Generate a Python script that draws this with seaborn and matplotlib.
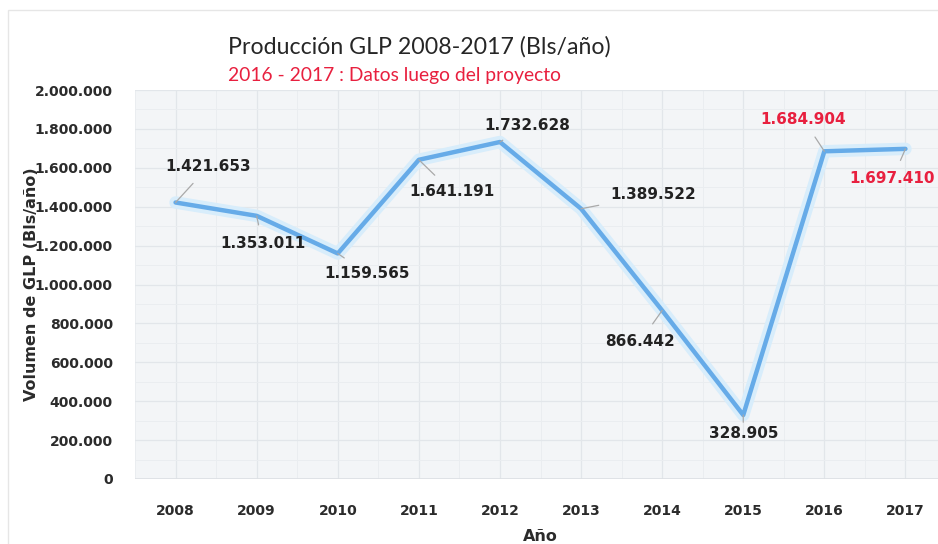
import matplotlib
matplotlib.use("Agg")
import matplotlib.pyplot as plt
import seaborn as sns
import pandas as pd
from matplotlib.ticker import FuncFormatter, MultipleLocator

years = ["2008", "2009", "2010", "2011", "2012", "2013", "2014", "2015", "2016", "2017"]
volumes = [1421653, 1353011, 1159565, 1641191, 1732628, 1389522, 866442, 328905, 1684904, 1697410]
# label offsets in pixels relative to each data point (dy positive = up)
label_dx = [33, 6, 29, 33, 27, 72, -22, 0, -21, -13]
label_dy = [36, -28, -20, -32, 17, 14, -31, -18, 32, -30]
post_project = ["2016", "2017"]

df = pd.DataFrame({"Año": years, "Volumen": volumes})

sns.set_theme(style="white")
plt.rcParams["font.family"] = ["DejaVu Sans"]

fig = plt.figure(figsize=(9.38, 5.44), dpi=100)
ax = fig.add_axes([135 / 938, (544 - 479) / 544, (946 - 135) / 938, (479 - 90) / 544])
ax.set_facecolor("#f3f5f7")

# soft halo under the line
sns.lineplot(data=df, x="Año", y="Volumen", ax=ax, color="#d8edfb", linewidth=9,
             sort=False, zorder=2)
sns.lineplot(data=df, x="Año", y="Volumen", ax=ax, color="#66abe8", linewidth=3.2,
             sort=False, zorder=3)

ax.set_ylim(0, 2000000)
ax.set_xlim(-0.5, len(years) - 0.5)
ax.yaxis.set_major_locator(MultipleLocator(200000))
ax.yaxis.set_minor_locator(MultipleLocator(100000))
ax.set_xticks(range(len(years)))
ax.set_xticks([i + 0.5 for i in range(-1, len(years))], minor=True)
ax.yaxis.set_major_formatter(FuncFormatter(lambda v, p: f"{int(v):,}".replace(",", ".")))

ax.grid(True, which="major", color="#e2e6ea", linewidth=0.9, zorder=0)
ax.grid(True, which="minor", color="#eaedf0", linewidth=0.7, zorder=0)
ax.set_axisbelow(True)
for s in ax.spines.values():
    s.set_visible(False)
ax.axhline(0, color="#dcdfe3", linewidth=1.2, zorder=1)

ax.tick_params(axis="both", which="both", length=0, labelsize=10, labelcolor="#2b2b2b")
ax.tick_params(axis="x", pad=18)
ax.tick_params(axis="y", pad=16)
for lbl in ax.get_xticklabels() + ax.get_yticklabels():
    lbl.set_fontweight("bold")

ax.set_xlabel("Año", fontsize=11.5, fontweight="bold", color="#2b2b2b", labelpad=8)
ax.set_ylabel("Volumen de GLP (Bls/año)", fontsize=11.5, fontweight="bold",
              color="#2b2b2b", labelpad=-3)

for i, (yr, v) in enumerate(zip(years, volumes)):
    col = "#e8203f" if yr in post_project else "#222222"
    ax.annotate(f"{v:,}".replace(",", "."), xy=(i, v),
                xytext=(label_dx[i], label_dy[i]), textcoords="offset pixels",
                ha="center", va="center", fontsize=11, fontweight="bold", color=col,
                arrowprops=dict(arrowstyle="-", color="#a9a9a9", lw=0.9,
                                shrinkA=6, shrinkB=0),
                zorder=5, annotation_clip=False)

fig.text(228 / 938, 1 - 47 / 544, "Producción GLP 2008-2017 (Bls/año)", fontsize=16.7,
         color="#262626", ha="left", va="center", family=["Lato", "DejaVu Sans"])
fig.text(228 / 938, 1 - 75 / 544, "2016 - 2017 : Datos luego del proyecto", fontsize=13.9,
         color="#e8203f", ha="left", va="center", family=["Lato", "DejaVu Sans"])

# outer chart frame
fig.patches.append(plt.Rectangle((8 / 938, -0.01), 1.0, 1 - 10 / 544 + 0.01,
                                 transform=fig.transFigure, fill=False,
                                 edgecolor="#e6e6e6", linewidth=1.0))

fig.savefig("out.png", dpi=100)
